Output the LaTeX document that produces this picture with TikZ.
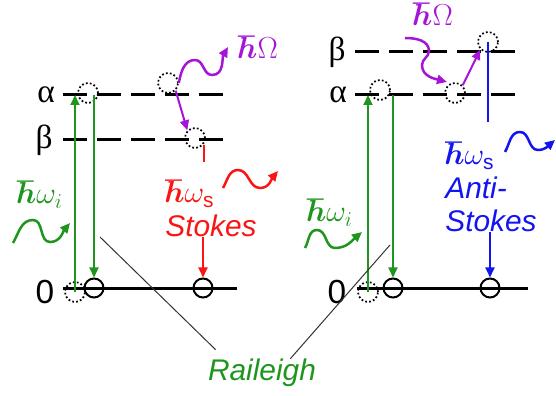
\documentclass[tikz,border=0pt]{standalone}
\usepackage{amsmath,bm}
\usepackage{fontspec}
\setmainfont{Liberation Sans}
\newfontfamily\greekfont{Liberation Serif}
\usetikzlibrary{arrows.meta}

\definecolor{phgreen}{RGB}{30,150,30}
\definecolor{phpurple}{RGB}{165,20,215}
\definecolor{phred}{RGB}{250,20,20}
\definecolor{phblue}{RGB}{20,20,240}

\begin{document}
\begin{tikzpicture}[x=0.2mm,y=0.2mm,
    lvl/.style={font=\fontsize{19}{21}\selectfont,inner sep=0pt},
    vlevel/.style={line width=0.6mm,dash pattern=on 4.8mm off 2mm},
    glevel/.style={line width=0.6mm},
    real/.style={circle,draw,line width=0.4mm,minimum size=3.8mm,inner sep=0pt},
    virt/.style={real,line width=0.35mm,dash pattern=on 0.35mm off 0.45mm,minimum size=4mm},
    trans/.style={line width=0.4mm,-{Triangle[length=2mm,width=1.8mm]}},
    wave/.style={line width=0.5mm,-{Triangle[length=2mm,width=1.8mm]}},
    lbl/.style={font=\fontsize{17}{19}\selectfont\itshape,align=left,inner sep=0pt},
    ptr/.style={line width=0.2mm,black!80}]
  \useasboundingbox (0,0) rectangle (556,396);

  % Stokes side
  \node[lvl] (aL) at (46,301) {\greekfont α};
  \node[lvl] (bL) at (44,256) {\greekfont β};
  \node[lvl] (zL) at (45,104) {0};
  \draw[vlevel] (63,301) -- (227,301);
  \draw[vlevel] (63,256) -- (227,256);
  \draw[glevel] (63,107) -- (237,107);

  \node[virt] (vA1) at (88,303) {};
  \node[virt] (vA2) at (168,313) {};
  \node[virt] (vB1) at (195,258) {};
  \node[virt] (gI1) at (75,104) {};
  \node[real] (gF1) at (94,108) {};
  \node[real] (gS1) at (203,108) {};

  \draw[trans,phgreen] (gI1.center) -- (gI1 |- aL);
  \draw[trans,phgreen] (gF1 |- aL) -- (gF1.north);
  \draw[trans,phpurple] (vA2.south east) -- (vB1.north west);

  \node[lbl,phgreen] (wiL) at (40,201) {$\bm{\hbar}\omega_i$};
  \draw[wave,phgreen] (13,153) to[out=60,in=180] (33,176) to[out=0,in=180] (50,154) to[out=0,in=-130] (70,173);

  \node[lbl,phpurple] (omL) at (258,349) {$\bm{\hbar}\Omega$};
  \draw[wave,phpurple] (vA2.east) to[out=80,in=180] (195,336) to[out=0,in=180] (212,321) to[out=0,in=-120] (228,349);

  \node[lbl,phred,anchor=north west] (stkL) at (165,216) {$\bm{\hbar}\omega_{\text{\upshape s}}$\\Stokes};
  \draw[line width=0.4mm,phred] (vB1.-37) -- ++(0,-17);
  \draw[trans,phred] (stkL.south -| gS1) -- (gS1.north);
  \draw[wave,phred] (223,208) to[out=60,in=180] (238,226) to[out=0,in=180] (260,208) to[out=0,in=-130] (278,225);

  % anti-Stokes side
  \node[lvl] (bR) at (337,344) {\greekfont β};
  \node[lvl] (aR) at (338,301) {\greekfont α};
  \node[lvl] (zR) at (337,104) {0};
  \draw[vlevel] (355,344) -- (515,344);
  \draw[vlevel] (355,301) -- (515,301);
  \draw[glevel] (357,107) -- (528,107);

  \node[virt] (vA3) at (380,306) {};
  \node[virt] (vA4) at (455,303) {};
  \node[virt] (vB2) at (488,354) {};
  \node[virt] (gI2) at (368,104) {};
  \node[real] (gF2) at (393,108) {};
  \node[real] (gS2) at (490,108) {};

  \draw[trans,phgreen] (gI2.center) -- (gI2 |- aR);
  \draw[trans,phgreen] (gF2 |- aR) -- (gF2.north);
  \draw[trans,phpurple] (vA4.north east) -- (vB2.south west);

  \node[lbl,phgreen] (wiR) at (330,183) {$\bm{\hbar}\omega_i$};
  \draw[wave,phgreen] (305,148) to[out=60,in=180] (317,166) to[out=0,in=180] (335,148) to[out=0,in=-140] (362,164);

  \node[lbl,phpurple] (omR) at (433,382) {$\bm{\hbar}\Omega$};
  \draw[wave,phpurple] (405,358) to[out=0,in=90] (429,345) to[out=-90,in=90] (422,331) to[out=-90,in=165] (447,314);

  \node[lbl,phblue,anchor=north west] (astL) at (445,254) {$\bm{\hbar}\omega_{\text{\upshape s}}$\\Anti-\\Stokes};
  \draw[line width=0.4mm,phblue] (vB2.center) -- ++(0,-80);
  \draw[trans,phblue] (astL.south -| gS2) -- (gS2.north);
  \draw[wave,phblue] (505,244) to[out=60,in=180] (520,264) to[out=0,in=180] (538,246) to[out=0,in=-140] (555,256);

  % Rayleigh
  \node[lbl,phgreen] (ray) at (262,23) {Raileigh};
  \coordinate (rayL) at (100,159);
  \coordinate (rayR) at (390,151);
  \draw[ptr] ([shift={(8,9)}]ray.north west) -- (rayL);
  \draw[ptr] ([shift={(-26,0)}]ray.north east) -- (rayR);
\end{tikzpicture}
\end{document}
